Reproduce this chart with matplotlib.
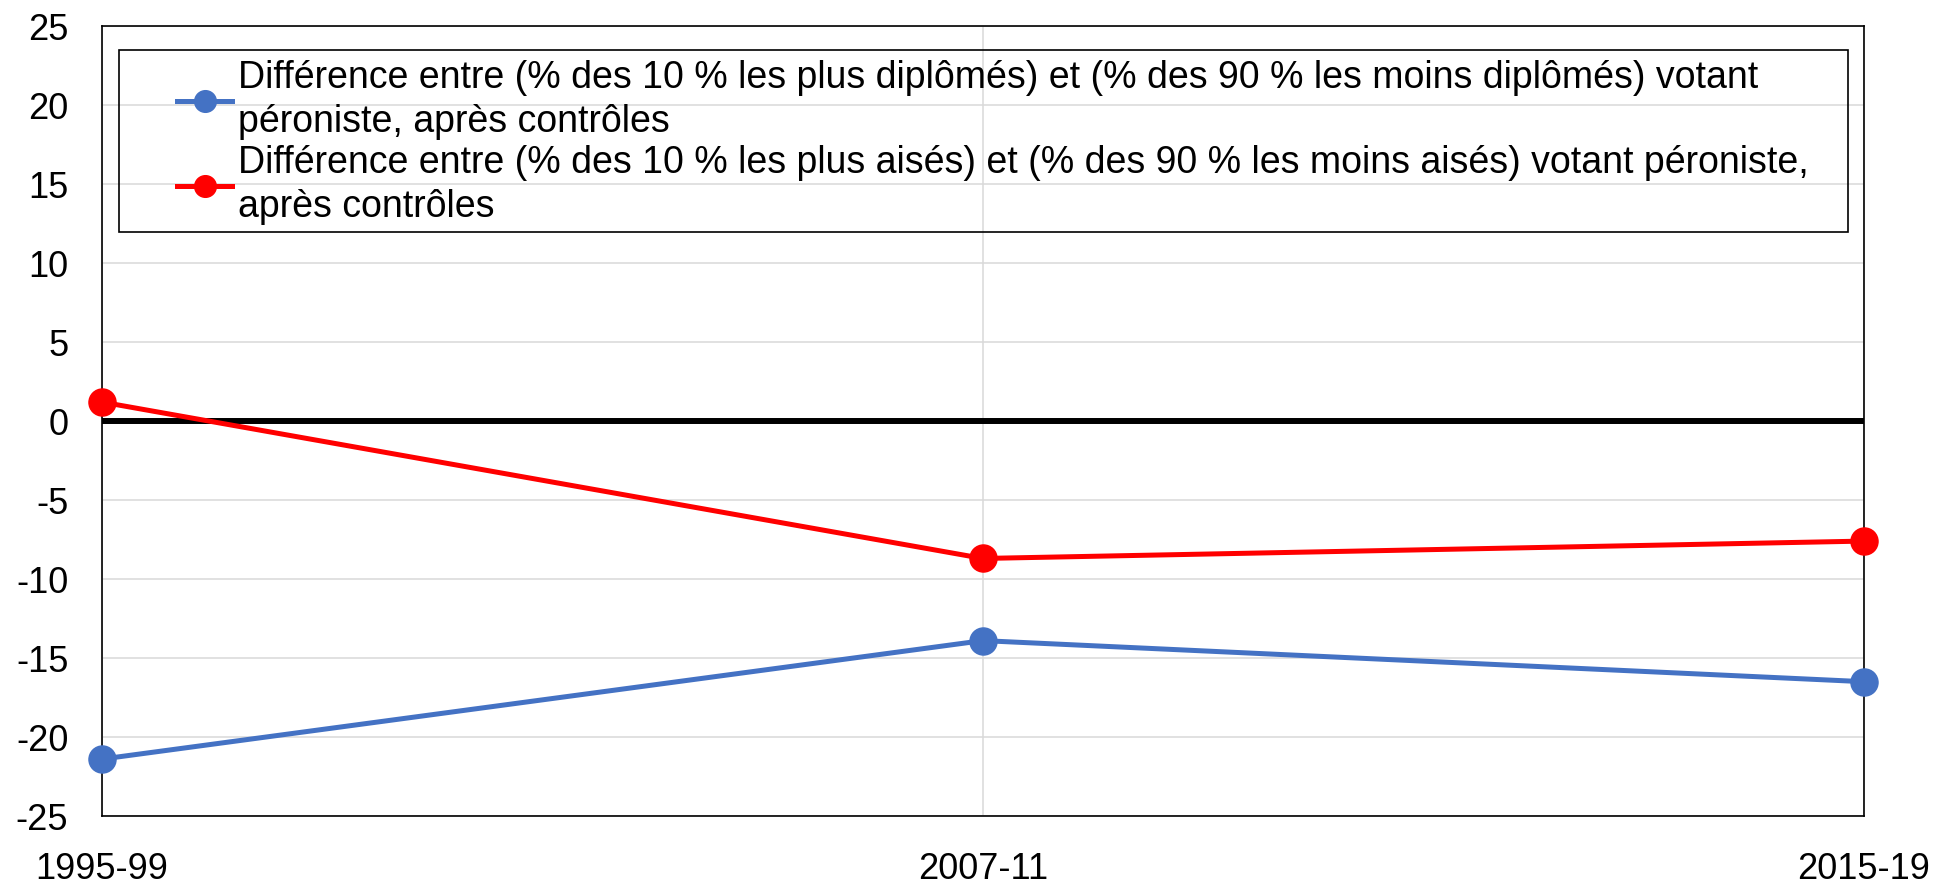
import matplotlib
matplotlib.use('Agg')
import matplotlib.pyplot as plt
from matplotlib.patches import Rectangle

plt.rcParams['font.family'] = ['Liberation Sans', 'DejaVu Sans']
plt.rcParams['axes.unicode_minus'] = False

# Data
periods = ['1995-99', '2007-11', '2015-19']
diplomes = [-21.4, -13.9, -16.5]
aises = [1.2, -8.7, -7.6]
label_diplomes = ("Différence entre (% des 10 % les plus diplômés) et (% des 90 % les moins diplômés) votant\n"
                  "péroniste, après contrôles")
label_aises = ("Différence entre (% des 10 % les plus aisés) et (% des 90 % les moins aisés) votant péroniste,\n"
               "après contrôles")
yticks = list(range(-25, 30, 5))

fig = plt.figure(figsize=(19.37, 8.88), dpi=100)
ax = fig.add_axes([101.7 / 1937, 1 - 816 / 888, (1864 - 101.7) / 1937, 790 / 888])

x = list(range(len(periods)))
ax.plot(x, diplomes, color='#4472C4', lw=3.6, marker='o', markersize=19.5,
        clip_on=False, zorder=3, label=label_diplomes)
ax.plot(x, aises, color='#FF0000', lw=3.6, marker='o', markersize=19.5,
        clip_on=False, zorder=3, label=label_aises)

# thick zero line
ax.axhline(0, color='black', lw=4.3, zorder=2)

ax.set_xlim(0, len(periods) - 1)
ax.set_ylim(-25, 25)
ax.set_xticks(x)
ax.set_xticklabels(periods)
ax.set_yticks(yticks)
ax.tick_params(axis='both', length=0, labelsize=26)
ax.tick_params(axis='x', pad=26)
ax.tick_params(axis='y', pad=24)
ax.grid(True, color='#d9d9d9', lw=1.1, zorder=0)
ax.set_axisbelow(True)
for s in ax.spines.values():
    s.set_color('black')
    s.set_linewidth(1.2)

# legend frame and legend
ax.add_patch(Rectangle((17 / 1762.3, (816 - 231.7) / 790), (1848 - 118.7) / 1762.3,
                       (231.7 - 50) / 790, transform=ax.transAxes, fill=False,
                       edgecolor='black', lw=1.2, zorder=4))
leg = ax.legend(loc='upper left', bbox_to_anchor=((176.8 - 101.7) / 1762.3, (816 - 60) / 790),
                frameon=False, fontsize=27, borderpad=0, borderaxespad=0,
                handlelength=1.48, handletextpad=0.15, labelspacing=0.12, markerscale=0.8)
for t in leg.get_texts():
    t.set_linespacing(1.3)

fig.savefig('out.png', dpi=100)
